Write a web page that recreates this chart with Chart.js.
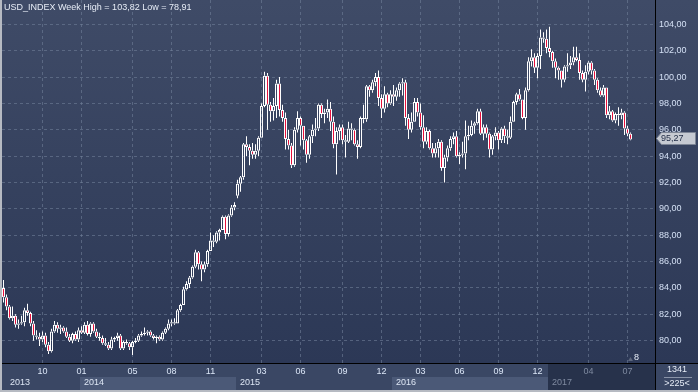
<!DOCTYPE html>
<html><head><meta charset="utf-8">
<script src="https://cdn.jsdelivr.net/npm/chart.js@4.4.0/dist/chart.umd.min.js"></script>
<style>html,body{margin:0;padding:0;background:#2c3856;overflow:hidden}canvas{display:block}</style>
</head><body>
<canvas id="c" width="698" height="392"></canvas>
<script>
// ---- data (weekly USD_INDEX candles, first week starting 2013-07-08) ----
const firstWeek = '2013-07-08';
const openV = [
 84.0,83.3,82.6,81.7,81.9,81.2,81.3,81.4,82.3,82.1,81.3,80.4,80.3,80.1,80.4,79.7,79.2,80.7,81.2,80.9,81.0,80.7,80.3,80.0,80.5,80.1,
 80.8,80.6,81.2,80.5,81.3,80.7,80.3,80.2,79.8,79.7,79.4,80.1,80.2,80.4,79.4,79.9,79.8,79.5,79.9,80.0,80.4,80.5,80.6,80.7,80.4,80.2,80.3,80.1,80.6,80.9,81.3,81.4,81.3,82.3,82.7,83.9,84.3,84.8,85.6,86.7,85.8,85.4,85.8,86.8,87.6,87.5,88.2,88.4,89.4,88.1,89.5,90.1,
 91.0,91.9,92.4,94.9,94.7,94.4,94.1,94.4,95.4,97.8,100.1,97.9,97.4,97.8,99.5,97.5,96.9,95.3,94.8,93.3,96.0,96.9,96.3,95.2,94.1,95.5,96.0,96.1,97.9,97.2,97.3,97.6,96.6,94.9,95.9,96.2,95.2,95.1,96.1,96.0,94.9,94.7,96.9,96.8,99.3,99.0,99.6,100.0,98.4,97.6,98.7,98.0,
 98.7,98.5,99.0,99.5,99.6,96.9,96.0,96.6,98.1,97.3,96.2,95.1,95.9,94.6,94.2,94.6,95.1,93.1,93.9,94.6,95.3,95.5,94.0,94.1,94.2,95.5,95.6,96.3,96.5,97.4,95.7,96.2,95.7,94.5,95.5,95.8,95.2,96.1,95.5,95.4,96.6,98.1,98.7,98.3,96.9,99.0,101.2,101.5,100.7,101.6,103.0,102.9,
 102.2,101.9,101.2,100.7,100.5,99.8,100.8,100.9,101.1,101.5,101.3,100.3,99.8,100.4,101.1,100.5,99.8,99.0,98.6,99.2,97.1,97.4,96.7,97.2,97.1,97.3,96.1,95.7
];
const highV = [
 84.6,83.5,82.7,82.6,82.0,81.6,81.9,82.5,82.8,82.2,81.5,80.8,80.6,80.7,80.6,79.9,80.9,81.5,81.4,81.2,81.1,81.0,80.5,80.6,80.7,81.0,
 81.1,81.4,81.5,81.4,81.4,80.9,80.6,80.4,80.2,79.9,80.3,80.3,80.6,80.5,80.0,80.1,79.9,80.0,80.2,80.5,80.7,81.0,80.8,80.8,80.5,80.4,80.4,80.7,81.0,81.6,81.6,81.7,82.4,82.8,84.1,84.5,84.9,85.7,86.9,86.8,86.0,86.0,86.9,88.2,88.0,88.3,88.5,89.5,89.5,89.6,90.3,90.5,
 92.2,92.5,95.0,95.5,94.9,95.0,94.9,95.5,98.0,100.4,100.3,98.1,98.4,99.8,100.0,97.9,97.3,96.0,95.0,96.2,97.4,97.0,96.3,95.3,95.6,96.4,96.9,98.0,98.0,97.6,98.3,98.1,97.0,96.2,96.4,96.4,95.6,96.6,96.5,96.1,95.2,97.0,97.9,99.4,99.4,99.8,100.3,100.5,98.7,99.3,98.8,99.0,
 99.4,99.2,99.6,99.9,99.8,97.2,97.3,98.4,98.4,98.0,97.1,96.2,96.0,95.0,95.0,95.3,95.2,94.1,94.8,95.5,95.8,95.9,94.3,95.1,96.7,96.3,96.7,96.6,97.6,97.6,96.4,96.4,95.8,95.6,96.2,95.9,96.2,96.3,96.0,97.0,98.2,98.8,99.1,98.3,99.2,101.5,102.1,101.8,101.8,103.6,103.4,103.6,
 103.82,102.0,101.4,100.8,100.5,100.9,101.8,101.6,102.3,102.3,101.8,100.5,100.9,101.2,101.2,100.6,99.9,99.2,99.4,99.2,97.8,97.5,97.3,97.7,97.6,97.4,96.3,95.8
];
const lowV = [
 82.9,82.3,81.6,81.5,81.0,80.9,81.2,81.1,81.9,81.1,80.0,80.1,79.6,79.9,79.5,79.0,79.1,80.6,80.6,80.5,80.6,80.2,79.9,79.8,80.0,79.9,
 80.5,80.5,80.4,80.3,80.6,80.2,80.0,79.7,79.6,79.3,79.3,79.9,80.0,79.3,79.3,79.7,79.3,78.91,79.8,79.9,80.3,80.4,80.4,80.3,80.1,79.8,80.0,80.0,80.5,80.8,81.1,81.2,81.3,82.2,82.7,83.8,84.0,84.7,85.5,85.4,84.5,85.2,85.6,86.8,87.1,87.4,87.6,88.4,87.7,87.9,89.4,89.9,
 90.8,91.3,92.2,94.0,93.3,93.8,93.8,94.0,95.4,97.7,96.0,96.6,96.7,96.9,97.0,96.6,94.5,94.5,93.1,93.2,95.8,94.8,94.5,93.5,93.8,95.0,95.5,95.9,96.9,96.5,96.9,95.9,94.6,92.6,95.2,94.9,93.9,95.0,95.2,94.8,93.8,94.6,96.5,96.6,98.5,98.8,99.3,97.8,96.9,97.3,97.7,97.9,
 97.8,98.2,98.5,98.6,96.3,95.3,95.8,96.6,97.0,96.0,94.6,94.9,94.5,93.9,93.9,93.9,92.9,92.0,93.6,94.4,94.9,93.9,93.4,93.9,93.0,95.2,95.5,95.7,96.4,95.6,95.2,95.4,93.9,94.1,95.2,94.5,95.0,95.0,94.9,95.3,96.6,97.9,98.2,96.8,96.0,98.9,100.8,100.3,99.9,100.6,102.6,101.8,
 101.5,100.7,99.9,99.8,99.2,99.6,100.4,100.6,100.9,101.2,99.8,99.6,98.9,100.2,100.2,99.4,98.8,98.5,98.5,96.9,96.8,96.6,96.5,96.3,96.8,95.6,95.5,95.2
];
const closeV = [
 83.3,82.6,81.7,81.9,81.2,81.3,81.4,82.3,82.1,81.3,80.4,80.3,80.1,80.4,79.7,79.2,80.7,81.2,80.9,81.0,80.7,80.3,80.0,80.5,80.1,80.8,
 80.6,81.2,80.5,81.3,80.7,80.3,80.2,79.8,79.7,79.4,80.1,80.2,80.4,79.4,79.9,79.8,79.5,79.9,80.0,80.4,80.5,80.6,80.7,80.4,80.2,80.3,80.1,80.6,80.9,81.3,81.4,81.3,82.3,82.7,83.9,84.3,84.8,85.6,86.7,85.8,85.4,85.8,86.8,87.6,87.5,88.2,88.4,89.4,88.1,89.5,90.1,90.3,
 91.9,92.4,94.9,94.7,94.4,94.1,94.4,95.4,97.8,100.1,97.9,97.4,97.8,99.5,97.5,96.9,95.3,94.8,93.3,96.0,96.9,96.3,95.2,94.1,95.5,96.0,96.1,97.9,97.2,97.3,97.6,96.6,94.9,95.9,96.2,95.2,95.1,96.1,96.0,94.9,94.7,96.9,96.8,99.3,99.0,99.6,100.0,98.4,97.6,98.7,98.0,98.7,
 98.5,99.0,99.5,99.6,96.9,96.0,96.6,98.1,97.3,96.2,95.1,95.9,94.6,94.2,94.6,95.1,93.1,93.9,94.6,95.3,95.5,94.0,94.1,94.2,95.5,95.6,96.3,96.5,97.4,95.7,96.2,95.7,94.5,95.5,95.8,95.2,96.1,95.5,95.4,96.6,98.1,98.7,98.3,96.9,99.0,101.2,101.5,100.7,101.6,103.0,102.9,102.2,
 101.9,101.2,100.7,100.5,99.8,100.8,100.9,101.1,101.5,101.3,100.3,99.8,100.4,101.1,100.5,99.8,99.0,98.6,99.2,97.1,97.4,96.7,97.2,97.1,97.3,96.1,95.7,95.27
];
const monthTicks = ['2013-10','2014-01','2014-05','2014-08','2014-11','2015-03','2015-06','2015-09','2015-12','2016-03','2016-06','2016-09','2016-12','2017-04','2017-07'];
const yTicks = [80,82,84,86,88,90,92,94,96,98,100,102,104];
const titleText = 'USD_INDEX Week High = 103,82 Low = 78,91';
const lastPrice = 95.27;
const barsTotal = '1341';
const barsVisible = '>225<';
const markerText = '8';
const emptySlots = 8;

// ---- derived tables ----
const N = openV.length;
const t0 = Date.parse(firstWeek + 'T00:00:00Z');
const weekDates = [];
for (let i = 0; i < N; i++) weekDates.push(new Date(t0 + i * 7 * 864e5));
const labels = weekDates.map(d => d.toISOString().slice(0, 10));
for (let k = 0; k < emptySlots; k++) labels.push('pad' + k);
const tickText = labels.map(() => '');
const seen = {};
weekDates.forEach((d, i) => {
  const key = d.toISOString().slice(0, 7);
  if (monthTicks.includes(key) && !seen[key]) { seen[key] = 1; tickText[i] = key.slice(5); }
});
const yearStarts = [];
weekDates.forEach((d, i) => {
  const y = d.getUTCFullYear();
  if (i === 0 || y !== weekDates[i - 1].getUTCFullYear()) yearStarts.push({ year: String(y), idx: i });
});
const lastYearIdx = yearStarts[yearStarts.length - 1].idx;

const bodies = openV.map((o, i) => [o, closeV[i]]);
const upperW = openV.map((o, i) => [Math.max(o, closeV[i]), highV[i]]);
const lowerW = openV.map((o, i) => [lowV[i], Math.min(o, closeV[i])]);
const RED = '#e8103c';
const bodyFill = openV.map((o, i) => closeV[i] < o ? RED : 'rgba(0,0,0,0)');

const FONT = '"Liberation Sans", Arial, sans-serif';
const GRID = 'rgba(112,126,152,0.6)';
const Y_MIN = 78.308, Y_MAX = 105.843;

const deco = {
  id: 'deco',
  beforeDraw(chart) {
    const { ctx, chartArea: a, scales: { x } } = chart;
    const W = chart.width, H = chart.height;
    ctx.save();
    const g = ctx.createLinearGradient(0, 0, 0, a.bottom);
    g.addColorStop(0, '#3f4b67');
    g.addColorStop(1, '#2c3856');
    ctx.fillStyle = g;
    ctx.fillRect(0, 0, W, H);
    ctx.fillStyle = '#3a4764';
    ctx.fillRect(0, a.bottom, W, H - a.bottom);
    // year bands
    yearStarts.forEach((ys, k) => {
      const x0 = ys.idx === 0 ? a.left : Math.round(x.getPixelForValue(ys.idx) - 1.5);
      const x1 = k + 1 < yearStarts.length ? Math.round(x.getPixelForValue(yearStarts[k + 1].idx) - 1.5) : a.right;
      if (ys.idx === lastYearIdx) {
        ctx.fillStyle = '#27324b';
        ctx.fillRect(x0, a.bottom, x1 - x0, H - a.bottom);
      } else if (k % 2 === 1) {
        ctx.fillStyle = '#4b5977';
        ctx.fillRect(x0, a.bottom + 14, x1 - x0, H - a.bottom - 14);
      }
      ctx.font = '9px ' + FONT;
      ctx.textBaseline = 'middle';
      ctx.textAlign = 'left';
      ctx.fillStyle = ys.idx === lastYearIdx ? '#7f8aa0' : '#dde6f4';
      ctx.fillText(ys.year, Math.max(x0 + 4, 10), a.bottom + 20);
    });
    ctx.restore();
  },
  afterDraw(chart) {
    const { ctx, chartArea: a, scales: { y } } = chart;
    const W = chart.width, H = chart.height;
    ctx.save();
    // separators
    ctx.fillStyle = '#000000';
    ctx.fillRect(0, a.bottom, W, 1);
    ctx.fillRect(655, 0, 1, H);
    // title
    ctx.font = '9px ' + FONT;
    ctx.textBaseline = 'middle';
    ctx.textAlign = 'left';
    ctx.fillStyle = '#e6ecf6';
    ctx.fillText(titleText, 4, 8);
    // last price tag
    const py = Math.round(y.getPixelForValue(lastPrice)) - 0.5;
    ctx.beginPath();
    ctx.moveTo(656.5, py);
    ctx.lineTo(661.5, py - 6);
    ctx.lineTo(695.5, py - 6);
    ctx.lineTo(695.5, py + 6);
    ctx.lineTo(661.5, py + 6);
    ctx.closePath();
    ctx.fillStyle = '#c6cad2';
    ctx.fill();
    ctx.strokeStyle = '#7e8696';
    ctx.lineWidth = 1;
    ctx.stroke();
    ctx.fillStyle = '#1e2a44';
    ctx.fillText(lastPrice.toFixed(2).replace('.', ','), 661, py + 0.5);
    // marker near bottom right of plot
    ctx.fillStyle = '#5c667c';
    ctx.beginPath();
    ctx.moveTo(628, 361); ctx.lineTo(633, 361); ctx.lineTo(630.5, 357); ctx.closePath(); ctx.fill();
    ctx.fillStyle = '#e6ecf6';
    ctx.fillText(markerText, 634, 358);
    // corner info box
    ctx.textAlign = 'center';
    ctx.fillText(barsTotal, 677, 370);
    ctx.fillText(barsVisible, 677, 384);
    ctx.fillStyle = '#8a94a8';
    ctx.fillRect(664, 377, 28, 1);
    // outer frame
    ctx.fillStyle = '#b6bac2';
    ctx.fillRect(0, 0, 2, H);
    ctx.fillRect(0, H - 2, W, 2);
    ctx.restore();
  }
};

new Chart(document.getElementById('c'), {
  type: 'bar',
  data: {
    labels: labels,
    datasets: [
      { data: bodies, backgroundColor: bodyFill, borderColor: '#ffffff', borderWidth: 1, borderSkipped: false,
        barThickness: 3, grouped: false, inflateAmount: 0 },
      { data: upperW, backgroundColor: '#ffffff', borderWidth: 0, barThickness: 1, grouped: false, inflateAmount: 0 },
      { data: lowerW, backgroundColor: '#ffffff', borderWidth: 0, barThickness: 1, grouped: false, inflateAmount: 0 }
    ]
  },
  options: {
    responsive: false,
    animation: false,
    events: [],
    layout: { padding: { left: 2, right: 0, top: 0, bottom: 0 } },
    plugins: { legend: { display: false }, tooltip: { enabled: false } },
    scales: {
      x: {
        offset: true,
        grid: { offset: false, drawTicks: false, color: c => tickText[c.index] ? GRID : 'rgba(0,0,0,0)' },
        border: { display: false, dash: [3, 3] },
        ticks: {
          autoSkip: false, maxRotation: 0, minRotation: 0, padding: 3,
          font: { family: FONT, size: 9 },
          color: c => c.index >= lastYearIdx ? '#7f8aa0' : '#dbe6f7',
          callback: (v, i) => tickText[i]
        },
        afterFit: s => { s.height = 29; s.paddingLeft = 0; s.paddingRight = 0; }
      },
      y: {
        position: 'right',
        min: Y_MIN, max: Y_MAX,
        grid: { drawTicks: false, color: GRID },
        border: { display: false, dash: [3, 3] },
        afterBuildTicks: s => { s.ticks = yTicks.map(v => ({ value: v })); },
        ticks: {
          padding: 3,
          font: { family: FONT, size: 9 },
          color: '#d4e0f4',
          callback: v => Number(v).toFixed(2).replace('.', ',')
        },
        afterFit: s => { s.width = 42; s.paddingTop = 0; s.paddingBottom = 0; }
      }
    }
  },
  plugins: [deco]
});
</script>
</body></html>
